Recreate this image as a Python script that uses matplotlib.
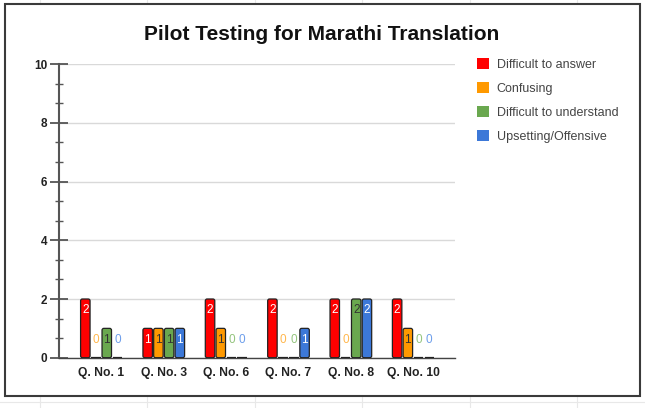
import numpy as np
import matplotlib.pyplot as plt
from matplotlib.patches import FancyBboxPatch, Rectangle, Patch
from matplotlib.lines import Line2D

plt.rcParams['font.family'] = ['Liberation Sans', 'DejaVu Sans']

questions = ['Q. No. 1', 'Q. No. 3', 'Q. No. 6', 'Q. No. 7', 'Q. No. 8', 'Q. No. 10']
series = ['Difficult to answer', 'Confusing', 'Difficult to understand', 'Upsetting/Offensive']
difficult_answer = [2, 1, 2, 2, 2, 2]
confusing = [0, 1, 1, 0, 0, 1]
difficult_understand = [1, 1, 0, 0, 2, 0]
upsetting = [0, 1, 0, 1, 2, 0]
values = [difficult_answer, confusing, difficult_understand, upsetting]

colors = ['#ff0000', '#ff9900', '#6aa84f', '#3c78d8']
label_colors = ['white', '#333333', '#333333', 'white']
zero_colors = ['#ff6666', '#ffb74d', '#93c47d', '#6d9eeb']

W, H = 645, 408
fig = plt.figure(figsize=(W / 100, H / 100), dpi=100)

# faint spreadsheet grid behind the chart box
for xp in [40, 147, 255, 362, 470, 577]:
    fig.add_artist(Line2D([xp / W] * 2, [0, 1], color='#e8e8e8', lw=0.8, zorder=0))
fig.add_artist(Line2D([0, 1], [1 - 402 / H] * 2, color='#e8e8e8', lw=0.8, zorder=0))
fig.add_artist(Rectangle((5 / W, 1 - 396 / H), 635 / W, 392 / H, transform=fig.transFigure,
                         facecolor='white', edgecolor='#3a3a3a', lw=1.5, zorder=1))

ax = fig.add_axes([59 / W, 1 - 357.7 / H, 396 / W, 293.5 / H])
ax.set_facecolor('none')
ax.set_zorder(2)

x = np.arange(len(questions))
pitch = 0.172
width = 0.152
for i, (vals, c) in enumerate(zip(values, colors)):
    bars = ax.bar(x + (i - 1.5) * pitch, vals, width, color=c, edgecolor='#222222', lw=0.9, label=series[i])
    for rect, v in zip(bars, vals):
        cx = rect.get_x() + rect.get_width() / 2
        if v > 0:
            rect.set_visible(False)
            ax.add_patch(FancyBboxPatch((rect.get_x(), 0), rect.get_width(), v,
                                        boxstyle='round,pad=0,rounding_size=0.03',
                                        mutation_aspect=2.12, facecolor=c,
                                        edgecolor='#222222', lw=0.9, zorder=3))
            ax.text(cx, v - 0.38, str(v), ha='center', va='center', fontsize=8.5,
                    color=label_colors[i], zorder=4)
        else:
            rect.set_zorder(3)
            rect.set_linewidth(1.6)
            ax.text(cx, 0.6, str(v), ha='center', va='center', fontsize=8.5,
                    color=zero_colors[i], zorder=4)

ax.set_xlim(-0.68, 5.67)
ax.set_ylim(0, 10)
ax.set_yticks(range(0, 11, 2))
ax.set_yticks(np.arange(0, 10.01, 2 / 3), minor=True)
ax.set_xticks(x, questions, fontweight='bold', fontsize=8.7, color='#222222')
ax.tick_params(axis='x', length=0, pad=7)
ax.tick_params(axis='y', which='major', direction='inout', length=13, width=1.3,
               color='#555555', labelsize=8.5, labelcolor='#222222', pad=2)
ax.tick_params(axis='y', which='minor', direction='inout', length=6, width=1, color='#555555')
for lab in ax.get_yticklabels():
    lab.set_fontweight('bold')

ax.yaxis.grid(True, color='#d9d9d9', lw=1)
ax.set_axisbelow(True)
for s in ['top', 'right']:
    ax.spines[s].set_visible(False)
ax.spines['left'].set_color('#555555')
ax.spines['left'].set_linewidth(1.5)
ax.spines['bottom'].set_color('#444444')
ax.spines['bottom'].set_linewidth(1)

fig.text(322 / W, 1 - 35 / H, 'Pilot Testing for Marathi Translation', ha='center', va='center',
         fontsize=15, fontweight='bold', color='#111111', zorder=3)

handles = [Patch(facecolor=c, edgecolor='none') for c in colors]
leg = fig.legend(handles, series, loc='upper left', bbox_to_anchor=(477 / W, 1 - 58 / H),
                 frameon=False, fontsize=9, handlelength=0.96, handleheight=0.96,
                 handletextpad=0.62, labelspacing=0.9, borderpad=0, borderaxespad=0)
for t in leg.get_texts():
    t.set_color('#444444')
leg.set_zorder(3)

fig.savefig('out.png', dpi=100)
